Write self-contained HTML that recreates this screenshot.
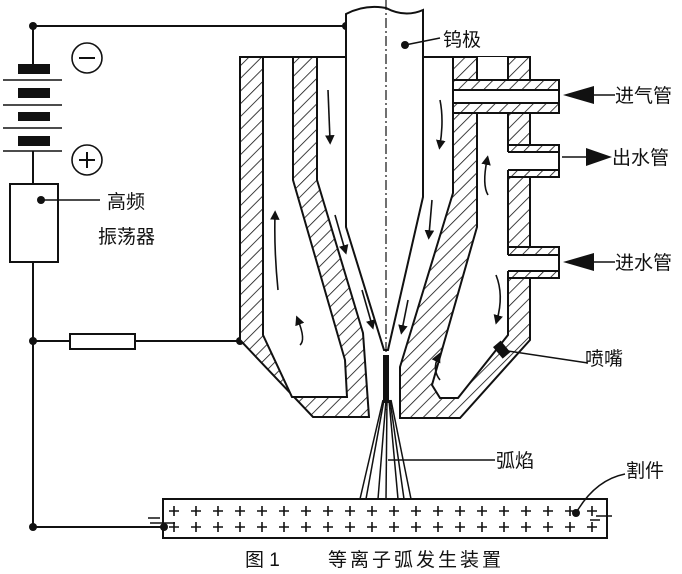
<!DOCTYPE html>
<html><head><meta charset="utf-8"><style>
body{margin:0;background:#fff;}
svg{display:block;}
text{font-family:"Liberation Sans","Noto Sans CJK SC",sans-serif;fill:#111;}
</style></head><body>
<svg width="682" height="574" viewBox="0 0 682 574" xmlns="http://www.w3.org/2000/svg">
<defs>
<pattern id="h" patternUnits="userSpaceOnUse" width="9" height="9" patternTransform="rotate(45)">
<rect width="9" height="9" fill="#fff"/><line x1="0" y1="0" x2="0" y2="9" stroke="#111" stroke-width="1.6"/>
</pattern>
<marker id="a" markerWidth="6" markerHeight="6" refX="3" refY="3" orient="auto"><path d="M0,0 L6,3 L0,6 z" fill="#111"/></marker>
</defs>
<g stroke="#111" stroke-width="2" fill="none">
<line x1="33" y1="26" x2="346" y2="26"/>
<line x1="33" y1="26" x2="33" y2="64"/>
<line x1="33" y1="151" x2="33" y2="184"/>
<rect x="10" y="184" width="48" height="78"/>
<line x1="33" y1="262" x2="33" y2="527"/>
<line x1="33" y1="341" x2="70" y2="341"/>
<rect x="70" y="334" width="65" height="15"/>
<line x1="135" y1="341" x2="240" y2="341"/>
<line x1="33" y1="527" x2="165" y2="527"/>
<line x1="41" y1="200" x2="100" y2="200" stroke-width="1.5"/>
<g stroke-width="1.5"><line x1="3" y1="80" x2="62" y2="80"/><line x1="3" y1="105" x2="62" y2="105"/><line x1="3" y1="128" x2="62" y2="128"/><line x1="3" y1="151" x2="62" y2="151"/></g>
<circle cx="87" cy="58" r="15" stroke-width="1.6"/><line x1="79" y1="58" x2="95" y2="58"/>
<circle cx="87" cy="160" r="15" stroke-width="1.6"/><line x1="79" y1="160" x2="95" y2="160"/><line x1="87" y1="152" x2="87" y2="168"/>
</g>
<g fill="#111">
<rect x="18" y="64" width="32" height="10"/><rect x="18" y="88" width="32" height="10"/><rect x="18" y="112" width="32" height="9"/><rect x="18" y="136" width="32" height="10"/>
<circle cx="33" cy="26" r="4"/><circle cx="33" cy="341" r="4"/><circle cx="33" cy="527" r="4"/><circle cx="41" cy="200" r="4"/>
<circle cx="240" cy="341" r="4"/><circle cx="346" cy="26" r="4"/>
</g>
<g stroke="#111" stroke-width="2">
<polygon fill="url(#h)" points="240,57 317,57 317,180 363,333 369,417 313,417 240,340"/>
<polygon fill="#fff" points="263,57 293,57 293,180 345,360 347,397 292,397 263,335"/>
<polygon fill="url(#h)" points="453,57 530,57 530,340 460,418 400,418 400,367 453,193"/>
<polygon fill="#fff" points="477,113 508,113 508,335 458,398 440,398 432,385 477,227"/>
<rect x="478" y="57" width="29" height="23" fill="#fff" stroke="none"/>
<line x1="477" y1="57" x2="477" y2="80"/><line x1="508" y1="57" x2="508" y2="80"/>
<rect x="453" y="80" width="106" height="33" fill="url(#h)"/>
<rect x="453" y="90" width="106" height="13" fill="#fff"/>
<rect x="508" y="145" width="51" height="32" fill="url(#h)"/>
<rect x="497" y="152" width="62" height="18" fill="#fff" stroke="none"/>
<line x1="508" y1="152" x2="559" y2="152"/><line x1="508" y1="170" x2="559" y2="170"/><line x1="559" y1="145" x2="559" y2="177"/>
<rect x="508" y="247" width="51" height="31" fill="url(#h)"/>
<rect x="497" y="255" width="62" height="16" fill="#fff" stroke="none"/>
<line x1="508" y1="255" x2="559" y2="255"/><line x1="508" y1="271" x2="559" y2="271"/><line x1="559" y1="247" x2="559" y2="278"/>
<line x1="317" y1="57" x2="346" y2="57"/><line x1="423" y1="57" x2="453" y2="57"/>
<path fill="#fff" d="M346,14 Q365,4 386,8 Q405,18 423,10 L423,197 L388,350 L384,350 L346,227 Z"/>
</g>
<line x1="386" y1="0" x2="386" y2="410" stroke="#111" stroke-width="1.2" stroke-dasharray="10,3,2,3"/>
<rect x="383" y="355" width="6" height="48" fill="#111"/>
<g stroke="#111" stroke-width="1.5" fill="none">
<path d="M383,400 L360,499"/><path d="M384,400 L366,499"/><path d="M386,400 L378,499"/><path d="M387,400 L386,499"/><path d="M389,400 L398,499"/><path d="M390,400 L404,499"/><path d="M391,400 L411,499"/>
</g>
<g stroke="#111" stroke-width="1.6" fill="none" marker-end="url(#a)">
<path d="M328,90 L330,140"/><path d="M335,215 L345,250"/><path d="M362,290 L372,325"/>
<path d="M440,100 Q444,120 440,145"/><path d="M432,200 L429,235"/><path d="M408,300 L402,330"/>
<path d="M278,290 Q274,250 275,215"/><path d="M300,345 Q306,340 298,320"/>
<path d="M488,195 Q482,185 487,160"/><path d="M496,275 Q504,295 497,320"/><path d="M440,380 Q432,370 438,357"/>
</g>
<rect x="163" y="499" width="444" height="39" stroke="#111" stroke-width="2" fill="#fff"/>
<g stroke="#111" stroke-width="1.6">
<path d="M169,511h10M174,506v10M191,511h10M196,506v10M213,511h10M218,506v10M235,511h10M240,506v10M257,511h10M262,506v10M279,511h10M284,506v10M301,511h10M306,506v10M323,511h10M328,506v10M345,511h10M350,506v10M367,511h10M372,506v10M389,511h10M394,506v10M411,511h10M416,506v10M433,511h10M438,506v10M455,511h10M460,506v10M477,511h10M482,506v10M499,511h10M504,506v10M521,511h10M526,506v10M543,511h10M548,506v10M565,511h10M570,506v10M587,511h10M592,506v10"/>
<path d="M169,527h10M174,522v10M191,527h10M196,522v10M213,527h10M218,522v10M235,527h10M240,522v10M257,527h10M262,522v10M279,527h10M284,522v10M301,527h10M306,522v10M323,527h10M328,522v10M345,527h10M350,522v10M367,527h10M372,522v10M389,527h10M394,522v10M411,527h10M416,522v10M433,527h10M438,522v10M455,527h10M460,522v10M477,527h10M482,522v10M499,527h10M504,522v10M521,527h10M526,522v10M543,527h10M548,522v10M565,527h10M570,522v10M587,527h10M592,522v10"/>
</g>
<g stroke="#111" stroke-width="1.5" fill="none">
<path d="M148,518 L160,518 M150,523 L175,523"/><path d="M590,520 L600,520 M596,516 L612,516"/>
<line x1="388" y1="460" x2="495" y2="460"/>
<path d="M576,513 Q595,480 625,474"/>
<line x1="405" y1="45" x2="440" y2="38"/>
<path d="M501,350 L588,363"/>
<line x1="593" y1="95" x2="615" y2="95"/><line x1="562" y1="157" x2="588" y2="157"/><line x1="593" y1="262" x2="615" y2="262"/>
</g>
<g fill="#111">
<polygon points="563,95 594,86 594,104"/><polygon points="612,157 586,148 586,166"/><polygon points="563,262 594,253 594,271"/>
<circle cx="164" cy="527" r="4"/><circle cx="576" cy="513" r="4"/><circle cx="405" cy="45" r="4"/><circle cx="501" cy="350" r="4"/>
</g>
<rect x="497" y="342" width="10" height="15" fill="#111" transform="rotate(-40 502 350)"/>
<g font-size="19">
<text x="443" y="46">钨极</text>
<text x="615" y="102">进气管</text>
<text x="612" y="164">出水管</text>
<text x="615" y="269">进水管</text>
<text x="585" y="365">喷嘴</text>
<text x="496" y="467">弧焰</text>
<text x="626" y="477">割件</text>
<text x="107" y="208">高频</text>
<text x="98" y="243">振荡器</text>
<text x="245" y="566">图 1</text>
<text x="328" y="566" letter-spacing="3">等离子弧发生装置</text>
</g>
</svg>
</body></html>
